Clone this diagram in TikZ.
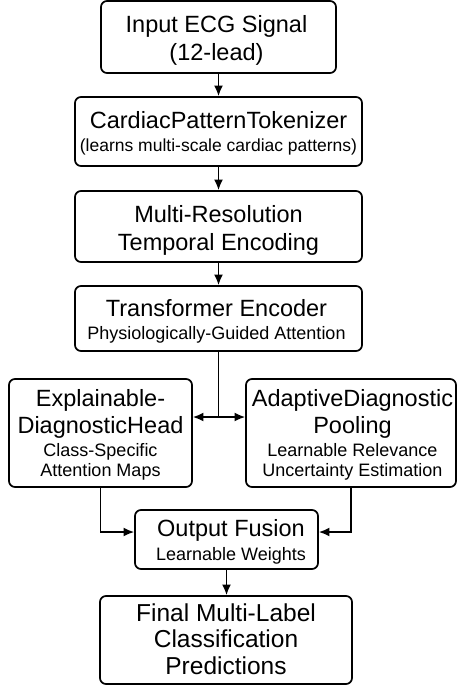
\documentclass[tikz,border=0pt]{standalone}
\usepackage{fontspec}
\setmainfont{Liberation Sans}
\usetikzlibrary{arrows.meta,calc}
\newcommand{\tf}{\fontsize{23.5}{28}\selectfont}
\newcommand{\ff}{\fontsize{24.5}{26.3}\selectfont}
\begin{document}
\begin{tikzpicture}[x=1pt,y=-1pt,
  box/.style={draw,line width=1.7pt,rounded corners=6pt,inner sep=0pt},
  txt/.style={align=center,inner sep=0pt,anchor=base},
  arr/.style={line width=1.7pt,-{Latex[length=10.5pt,width=9pt]}},
  ln/.style={line width=1.7pt}]
\useasboundingbox (0,0) rectangle (458,688);
% boxes
\node[box,minimum width=235pt,minimum height=72pt] (inp) at (218.5,37) {};
\node[box,minimum width=287pt,minimum height=69pt] (tok) at (218.5,131.5) {};
\node[box,minimum width=287pt,minimum height=71pt] (mre) at (218.5,226.5) {};
\node[box,minimum width=287pt,minimum height=65pt] (tra) at (218.5,318.5) {};
\node[box,minimum width=183pt,minimum height=108pt] (edh) at (100.5,433) {};
\node[box,minimum width=210pt,minimum height=108pt] (adp) at (351,433) {};
\node[box,minimum width=183pt,minimum height=59pt] (fus) at (226.5,539.5) {};
\node[box,minimum width=252pt,minimum height=88pt] (fin) at (226,640) {};
% texts (anchor=base is the baseline of the last line)
\node[txt,font=\fontsize{23.5}{28}\selectfont] (inpT) at (216.5,60.3) {Input ECG Signal\\(12-lead)};
\node[txt,font=\fontsize{17.5}{22.7}\selectfont] (tokT) at (218.5,151) {{\tf CardiacPatternTokenizer}\\(learns multi-scale cardiac patterns)};
\node[txt,font=\fontsize{23.5}{28.4}\selectfont] (mreT) at (218.5,250.7) {Multi-Resolution\\Temporal Encoding};
\node[txt,font=\fontsize{18}{22.6}\selectfont] (traT) at (216.5,339.3) {{\tf Transformer Encoder}\\Physiologically-Guided Attention};
\node[txt,font=\fontsize{18}{20.7}\selectfont] (edhT) at (100.5,476.7) {{\tf Explainable-}\\[4.3pt]{\tf DiagnosticHead}\\[2pt]Class-Specific\\Attention Maps};
\node[txt,font=\fontsize{18}{20.7}\selectfont] (adpT) at (352.5,476.7) {{\tf AdaptiveDiagnostic}\\[4.3pt]{\tf Pooling}\\[2pt]Learnable Relevance\\Uncertainty Estimation};
\node[txt,font=\fontsize{18}{23.3}\selectfont] (fusT) at (231,560) {{\tf Output Fusion}\\Learnable Weights};
\node[txt,font=\ff] (finT) at (226,674) {Final Multi-Label\\Classification\\Predictions};
% connectors
\coordinate (split) at (218.5,417);
\draw[arr] (inp) -- (tok);
\draw[arr] (tok) -- (mre);
\draw[arr] (mre) -- (tra);
\draw[ln] (tra.south) -- (split);
\draw[arr] (split) -- (edh.east |- split);
\draw[arr] (split) -- (adp.west |- split);
\draw[arr] (edh.south) |- ([yshift=7.5pt]fus.west);
\draw[arr] (adp.south) |- ([yshift=7.5pt]fus.east);
\draw[arr] (fus) -- (fus |- fin.north);
\end{tikzpicture}
\end{document}
